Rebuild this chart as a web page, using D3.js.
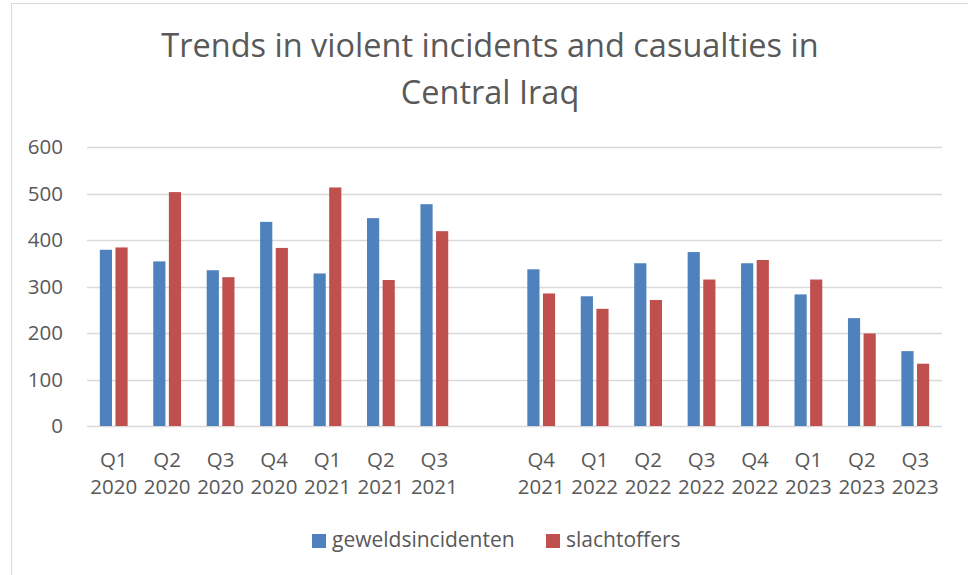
<!DOCTYPE html>
<html>
<head>
<meta charset="utf-8">
<script src="https://cdn.jsdelivr.net/npm/d3@7"></script>
<style>
  html, body { margin: 0; padding: 0; background: #fff; }
  svg text { font-family: 'Open Sans', 'Noto Sans', sans-serif; fill: #595959; }
</style>
</head>
<body>
<svg id="chart" width="968" height="575"></svg>
<script>
'use strict';

// categories (an empty slot sits between Q3 2021 and Q4 2021, as in the source)
const quarters = ['Q1', 'Q2', 'Q3', 'Q4', 'Q1', 'Q2', 'Q3', '', 'Q4', 'Q1', 'Q2', 'Q3', 'Q4', 'Q1', 'Q2', 'Q3'];
const years = ['2020', '2020', '2020', '2020', '2021', '2021', '2021', '', '2021', '2022', '2022', '2022', '2022', '2023', '2023', '2023'];

// series values
const incidents = [379, 354, 335, 439, 328, 447, 477, null, 337, 279, 350, 374, 350, 283, 232, 161];
const casualties = [384, 503, 320, 383, 513, 314, 419, null, 285, 252, 271, 315, 357, 315, 199, 134];

const seriesNames = ['geweldsincidenten', 'slachtoffers'];
const seriesColors = ['#4f81bd', '#c0504d'];
const yTicks = [0, 100, 200, 300, 400, 500, 600];
const titleLines = ['Trends in violent incidents and casualties in', 'Central Iraq'];

const svg = d3.select('#chart');

// chart frame
svg.append('rect')
  .attr('x', 11.5)
  .attr('y', 3.5)
  .attr('width', 980)
  .attr('height', 600)
  .attr('fill', '#fff')
  .attr('stroke', '#d9d9d9')
  .attr('stroke-width', 1);

const plot = { left: 87, right: 942, top: 147, bottom: 426 };

const slots = quarters.map((q, i) => i);

const x0 = d3.scaleBand()
  .domain(slots)
  .range([plot.left, plot.right])
  .paddingInner(0.48)
  .paddingOuter(0.24);

const x1 = d3.scaleBand()
  .domain([0, 1])
  .range([0, x0.bandwidth()])
  .paddingInner(0.22);

const y = d3.scaleLinear()
  .domain([0, 600])
  .range([plot.bottom, plot.top]);

// title
svg.append('g')
  .selectAll('text')
  .data(titleLines)
  .enter()
  .append('text')
  .attr('x', 490)
  .attr('y', (d, i) => 57 + i * 47)
  .attr('text-anchor', 'middle')
  .style('font-size', '32.5px')
  .text(d => d);

// gridlines
svg.append('g')
  .selectAll('line')
  .data(yTicks)
  .enter()
  .append('line')
  .attr('x1', plot.left)
  .attr('x2', plot.right)
  .attr('y1', d => Math.round(y(d)) + 0.5)
  .attr('y2', d => Math.round(y(d)) + 0.5)
  .attr('stroke', '#d9d9d9')
  .attr('stroke-width', 1.3);

// y axis labels
const yAxis = d3.axisLeft(y).tickValues(yTicks).tickSize(0).tickPadding(0);
const yAxisG = svg.append('g')
  .attr('transform', 'translate(63,0)')
  .call(yAxis);
yAxisG.select('.domain').remove();
yAxisG.selectAll('text')
  .style('font-size', '20.5px')
  .attr('fill', '#595959');

// bars
const seriesData = [incidents, casualties];
const groups = svg.append('g')
  .selectAll('g')
  .data(seriesData)
  .enter()
  .append('g')
  .attr('fill', (d, i) => seriesColors[i]);

groups.each(function (values, s) {
  d3.select(this)
    .selectAll('rect')
    .data(values.map((v, i) => ({ slot: i, value: v })).filter(d => d.value !== null))
    .enter()
    .append('rect')
    .attr('x', d => x0(d.slot) + x1(s))
    .attr('width', x1.bandwidth())
    .attr('y', d => y(d.value))
    .attr('height', d => y(0) - y(d.value));
});

// x axis labels (two lines)
const xLabels = svg.append('g')
  .selectAll('text')
  .data(slots)
  .enter()
  .append('text')
  .attr('text-anchor', 'middle')
  .style('font-size', '20.5px');

xLabels.append('tspan')
  .attr('x', d => x0(d) + x0.bandwidth() / 2)
  .attr('y', 467)
  .text(d => quarters[d]);

xLabels.append('tspan')
  .attr('x', d => x0(d) + x0.bandwidth() / 2)
  .attr('y', 494)
  .text(d => years[d]);

// legend
const legendX = [312, 546];
const legend = svg.append('g')
  .selectAll('g')
  .data(seriesNames)
  .enter()
  .append('g')
  .attr('transform', (d, i) => `translate(${legendX[i]},534)`);

legend.append('rect')
  .attr('width', 14)
  .attr('height', 14)
  .attr('fill', (d, i) => seriesColors[i]);

legend.append('text')
  .attr('x', 20)
  .attr('y', 13)
  .style('font-size', '21px')
  .text(d => d);
</script>
</body>
</html>
